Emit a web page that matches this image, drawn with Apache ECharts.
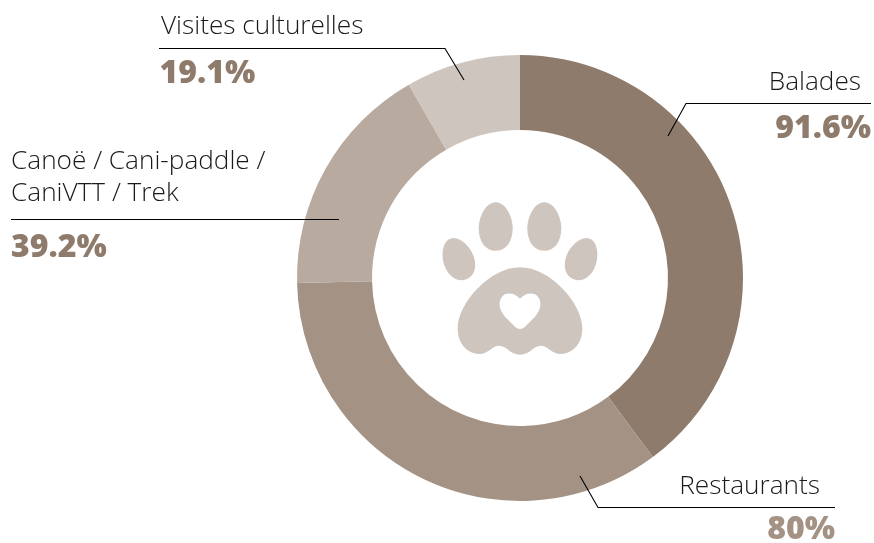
<!DOCTYPE html>
<html><head><meta charset="utf-8">
<style>html,body{margin:0;padding:0;background:#fff}#c{width:874px;height:543px}</style>
<script src="https://cdn.jsdelivr.net/npm/echarts@6/dist/echarts.min.js"></script>
</head><body><div id="c"></div>
<script>
const categories = ['Balades', 'Restaurants', 'Canoë / Cani-paddle /\nCaniVTT / Trek', 'Visites culturelles'];
const values = [91.6, 80, 39.2, 19.1];
const valueLabels = ['91.6%', '80%', '39.2%', '19.1%'];
const sliceColors = ['#8e7b6b', '#a49384', '#b8aa9f', '#cfc5bf'];
const valueColors = ['#8e7b6b', '#a49384', '#8e7b6b', '#8e7b6b'];
const labelAnchors = [
  {x: 871, y: 67, align: 'right', padL: 0, padR: 10, valueLine: 60.5},
  {x: 835, y: 471, align: 'right', padL: 0, padR: 15, valueLine: 54.5},
  {x: 11, y: 146, align: 'left', padL: 0, padR: 0, valueLine: 78.5},
  {x: 159.5, y: 11, align: 'left', padL: 1.5, padR: 0, valueLine: 62.5}
];
const leaders = [
  [[668, 136], [686, 103.5], [871, 103.5]],
  [[580, 476], [598, 507.5], [835, 507.5]],
  [[339, 219.5], [11, 219.5]],
  [[464, 80], [445, 48.5], [159, 48.5]]
];
const toes = [
  {x: 458.3, y: 259, scale: 0.1, rotation: 0.38},
  {x: 495.7, y: 226.5, scale: 1/9, rotation: 0},
  {x: 544.3, y: 226.5, scale: 1/9, rotation: 0},
  {x: 581.7, y: 259, scale: 0.1, rotation: -0.38}
];
const toePath = 'M0 -219C-90 -219 -153 -87 -153 18C-153 138 -90 219 0 219C90 219 153 138 153 18C153 -87 90 -219 0 -219Z';
const padPath = 'M300 232C210 232 113 340 113 415C113 465 145 492 178 492C205 492 215 467 238 467C260 467 270 494 300 494C330 494 340 467 362 467C385 467 395 492 422 492C455 492 487 465 487 415C487 340 390 232 300 232Z';
const heartPath = 'M300 326C285 310 262 305 248 318C232 335 238 360 255 380L285 410C295 419 305 419 315 410L345 380C362 360 368 335 352 318C338 305 315 310 300 326Z';
const pawColor = '#cfc5bf';

echarts.graphic.registerShape('pawToe', echarts.graphic.extendPath(toePath, {}));
echarts.graphic.registerShape('pawPad', echarts.graphic.extendPath(padPath, {}));
echarts.graphic.registerShape('pawHeart', echarts.graphic.extendPath(heartPath, {}));

const FONT = '"Open Sans"';
const rich = {};
valueColors.forEach((c, i) => {
  const a = labelAnchors[i];
  rich['v' + i] = {fontFamily: FONT, fontWeight: 800, fontSize: 32, lineHeight: a.valueLine, color: c, align: a.align};
  rich['n' + i] = {fontFamily: FONT, fontWeight: 300, fontSize: 26.2, lineHeight: 31.5, color: '#1a1a1a', padding: [0, a.padR, 0, a.padL]};
});

const chart = echarts.init(document.getElementById('c'), null, {renderer: 'canvas'});
chart.setOption({
  animation: false,
  backgroundColor: '#fff',
  series: [{
    type: 'pie',
    center: [520, 278],
    radius: [148, 223],
    startAngle: 90,
    clockwise: true,
    silent: true,
    avoidLabelOverlap: false,
    data: categories.map((name, i) => ({
      name, value: values[i],
      itemStyle: {color: sliceColors[i]},
      label: {
        align: labelAnchors[i].align,
        formatter: () => name.split('\n').map(s => '{n' + i + '|' + s + '}').join('\n') + '\n{v' + i + '|' + valueLabels[i] + '}'
      }
    })),
    label: {show: true, position: 'outside', rich, color: '#222', fontFamily: FONT},
    labelLine: {show: false},
    labelLayout: p => {
      const a = labelAnchors[p.dataIndex];
      return {x: a.x, y: a.y, align: a.align, verticalAlign: 'top'};
    }
  }],
  graphic: [
    ...toes.map(t => ({type: 'pawToe', silent: true, x: t.x, y: t.y, rotation: t.rotation,
      scaleX: t.scale, scaleY: t.scale, style: {fill: pawColor}})),
    {type: 'pawPad', silent: true, x: 420, y: 190, scaleX: 1/3, scaleY: 1/3, style: {fill: pawColor}},
    {type: 'pawHeart', silent: true, x: 420, y: 190, scaleX: 1/3, scaleY: 1/3, style: {fill: '#fff'}},
    ...leaders.map(points => ({type: 'polyline', silent: true, z: 20, shape: {points},
      style: {stroke: '#000', lineWidth: 1.1, fill: null}}))
  ]
});
</script></body></html>
